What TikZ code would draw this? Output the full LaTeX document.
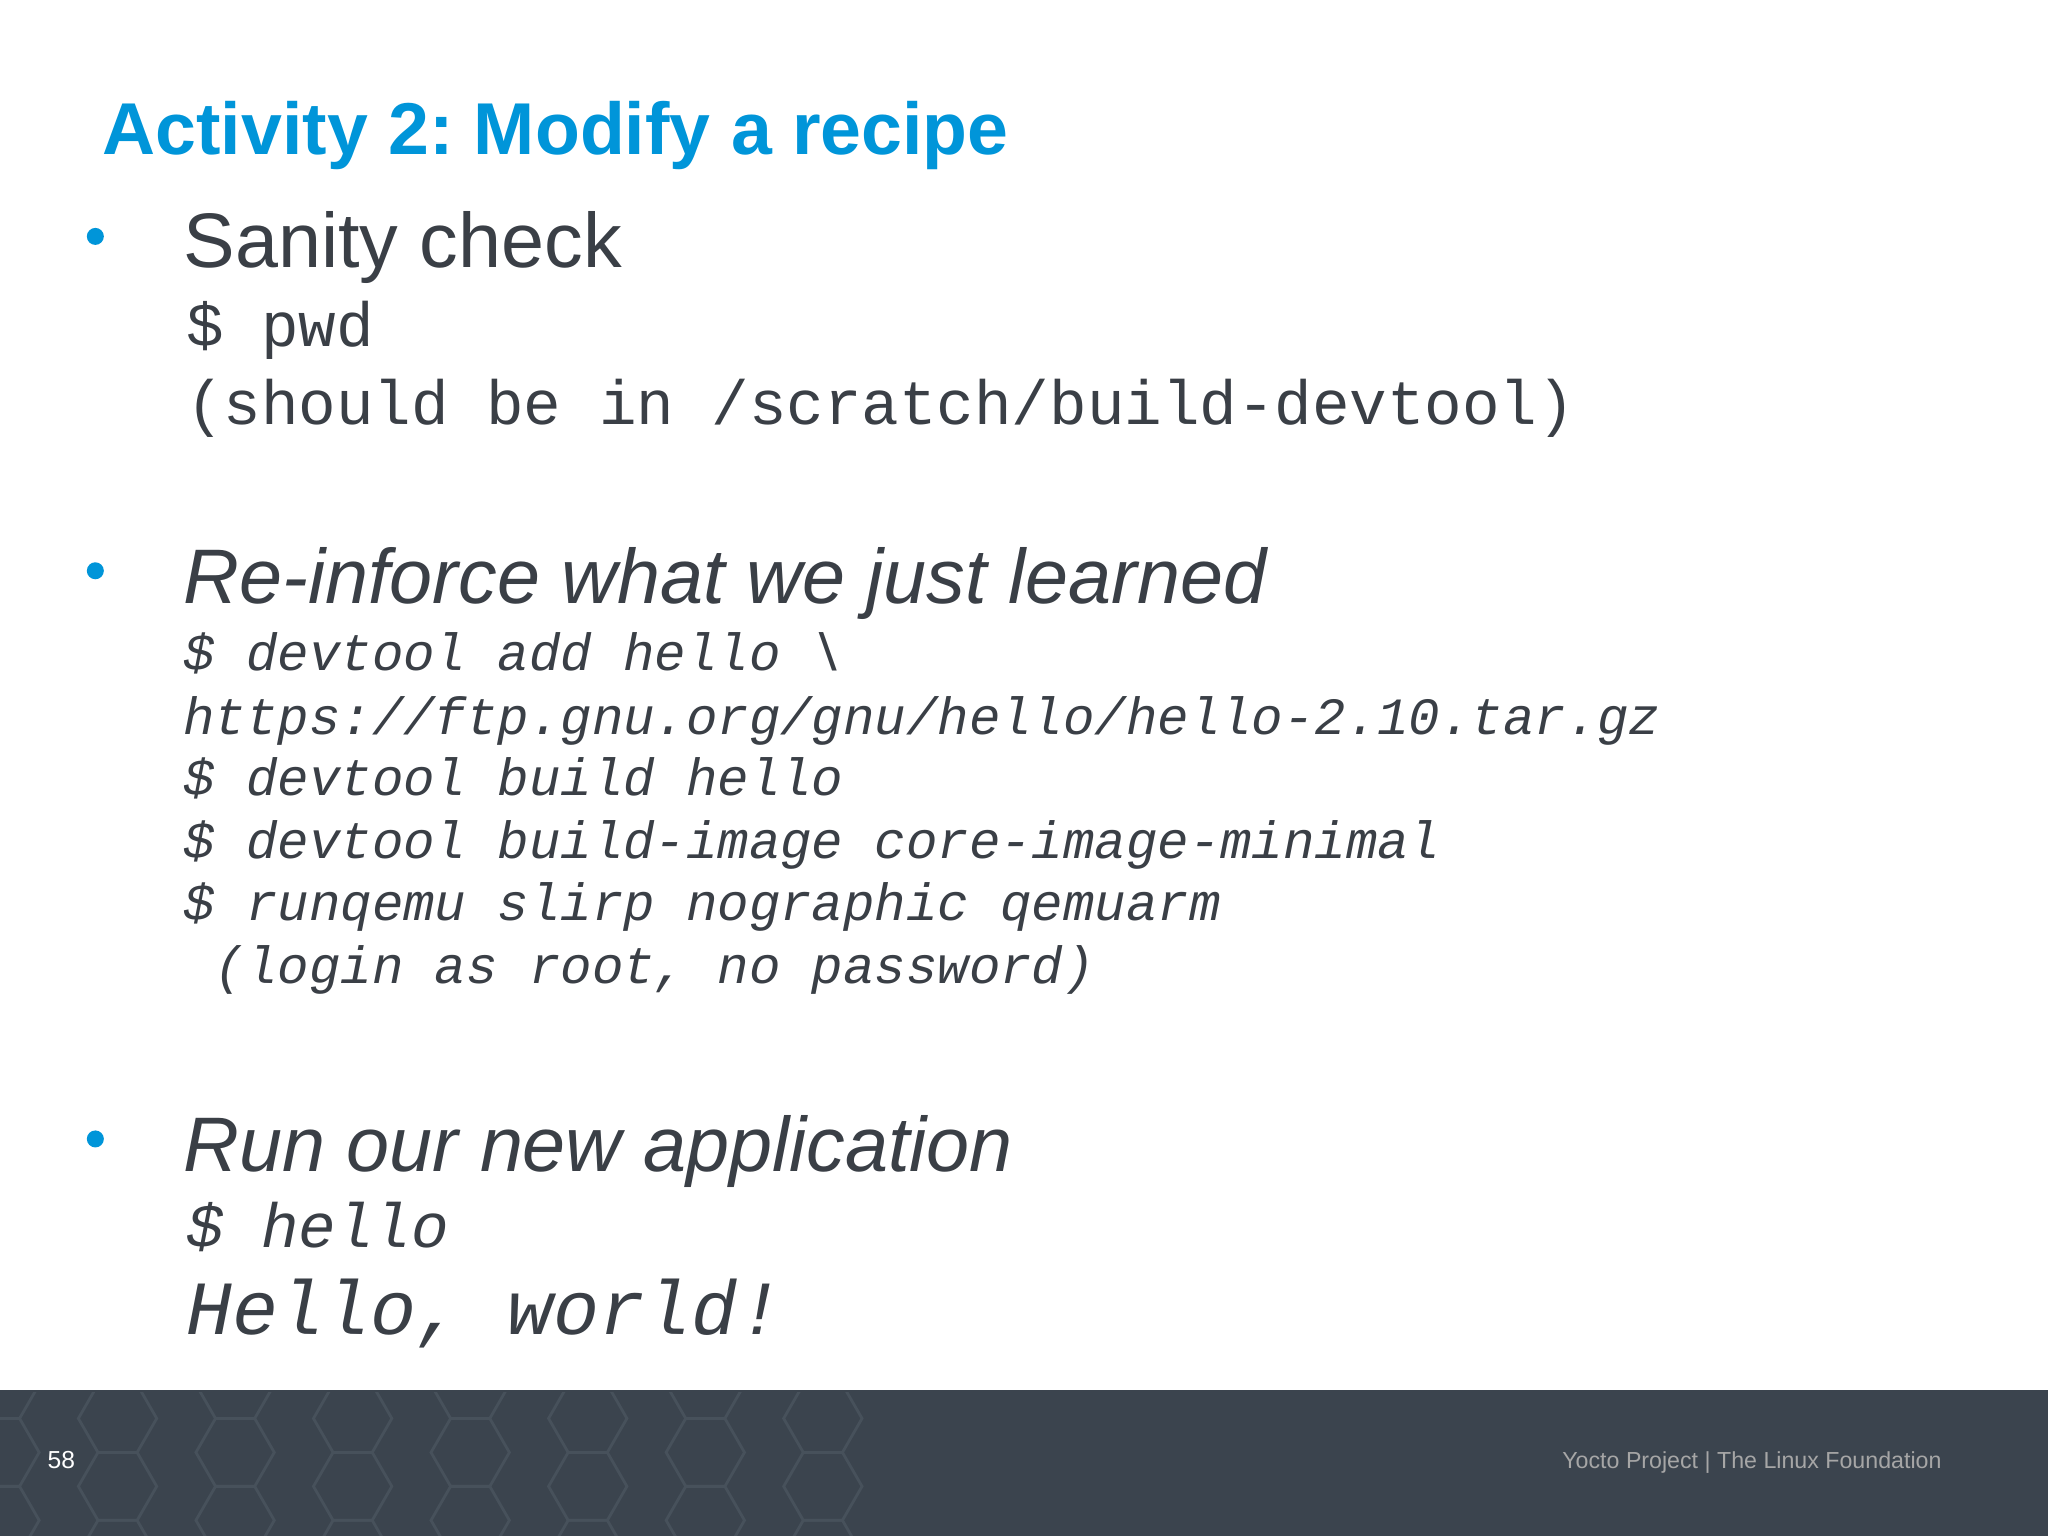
\documentclass[tikz,border=0pt]{standalone}
\usepackage{fontspec}
\setmainfont{Liberation Sans}
\setmonofont{Liberation Mono}
\frenchspacing
\definecolor{ttl}{HTML}{0095D9}
\definecolor{txt}{HTML}{3A3F46}
\definecolor{bar}{HTML}{3B444E}
\definecolor{hex}{HTML}{47515B}
\tikzset{
  head/.style={anchor=base west,inner sep=0,text=txt,font=\fontsize{22}{22}\selectfont},
  code/.style={anchor=base west,inner sep=0,text=txt,font=\ttfamily\fontsize{17.8}{18}\selectfont},
  icode/.style={anchor=base west,inner sep=0,text=txt,font=\ttfamily\itshape\fontsize{14.9}{15}\selectfont},
  bul/.style={circle,fill=ttl,inner sep=0,minimum size=0.17cm}
}
\begin{document}
\begin{tikzpicture}[x=0.013061cm,y=-0.013061cm]
\useasboundingbox (0,0) rectangle (1568,1176);
\fill[white] (0,0) rectangle (1568,1176);
\fill[bar] (0,1064) rectangle (1568,1176);
\begin{scope}
\clip (0,1066) rectangle (700,1176);
\foreach \i in {0,...,7}{
  \foreach \j in {0,...,3}{
    \pgfmathsetmacro{\cx}{\i*90}
    \pgfmathsetmacro{\cy}{1060+\j*52+mod(\i,2)*26}
    \draw[hex,line width=0.8pt] (\cx-30,\cy) -- (\cx-15,\cy-26) -- (\cx+15,\cy-26) -- (\cx+30,\cy) -- (\cx+15,\cy+26) -- (\cx-15,\cy+26) -- cycle;
  }
}
\end{scope}
\node[anchor=base west,inner sep=0,text=ttl,font=\bfseries\fontsize{20.9}{21}\selectfont] (title) at (78,118) {Activity 2: Modify a recipe};
\node[bul] (b1) at (73,181) {};
\node[bul] (b2) at (73,437) {};
\node[bul] (b3) at (73,872) {};
\node[head] (h1) at (140,205) {Sanity check};
\node[code] (c1) at (142,265) {\$ pwd};
\node[code] (c2) at (142,325) {(should be in /scratch/build-devtool)};
\node[head,font=\itshape\fontsize{22}{22}\selectfont] (h2) at (140,462) {Re-inforce what we just learned};
\node[icode] (d1) at (140,513) {\$ devtool add hello \textbackslash};
\node[icode] (d2) at (140,562) {https://ftp.gnu.org/gnu/hello/hello-2.10.tar.gz};
\node[icode] (d3) at (140,609) {\$ devtool build hello};
\node[icode] (d4) at (140,657) {\$ devtool build-image core-image-minimal};
\node[icode] (d5) at (140,705) {\$ runqemu slirp nographic qemuarm};
\node[icode] (d6) at (140,753) {\ (login as root, no password)};
\node[head,font=\itshape\fontsize{22}{22}\selectfont] (h3) at (140,897) {Run our new application};
\node[code,font=\ttfamily\itshape\fontsize{17.8}{18}\selectfont] (e1) at (142,955) {\$ hello};
\node[code,font=\ttfamily\itshape\fontsize{21.8}{22}\selectfont] (e2) at (142,1022) {Hello, world!};
\node[anchor=base west,inner sep=0,text=white,font=\fontsize{7}{7}\selectfont] (pg) at (36,1124) {58};
\node[anchor=base east,inner sep=0,text=gray!70,font=\fontsize{6.6}{7}\selectfont] (ft) at (1487,1124) {Yocto Project | The Linux Foundation};
\end{tikzpicture}
\end{document}
